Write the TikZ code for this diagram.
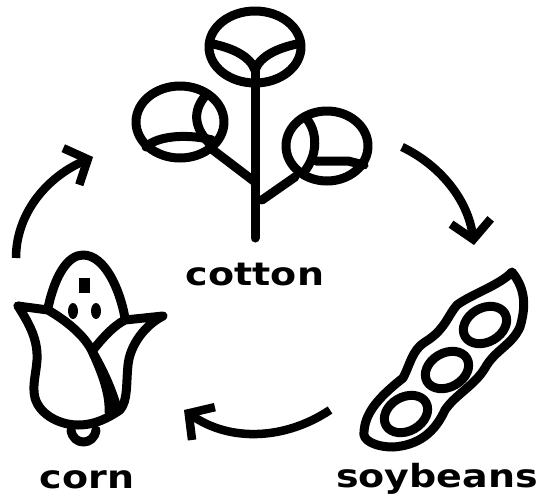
\documentclass[tikz,border=0pt]{standalone}
\usepackage{fontspec}
\setmainfont{DejaVu Sans}
\usetikzlibrary{arrows.meta}
\newcommand{\croplabel}[1]{\scalebox{1}[0.84]{#1}}
\begin{document}
\begin{tikzpicture}[x=1pt,y=-1pt,
      ink/.style={draw=black,line width=9pt,line join=round,line cap=round},
      cycle/.style={draw=black,line width=8.5pt,-{Straight Barb[length=18pt,width=40pt,line width=8.5pt]}},
      lbl/.style={font=\fontsize{38}{38}\selectfont\bfseries,inner sep=0pt,anchor=base}]
    \useasboundingbox (0,0) rectangle (540,496);
    % cotton
    \draw[ink] (255,47) ellipse [x radius=46,y radius=36];
    \draw[ink] (255,70) -- (255,238);
    \draw[ink] (213,44) .. controls (232,48) and (250,56) .. (255,70) .. controls (260,56) and (278,48) .. (297,44);
    \draw[ink] (180,122) ellipse [x radius=44,y radius=36];
    \draw[ink] (207,94) .. controls (192,110) and (193,128) .. (212,146);
    \draw[ink] (146,147) .. controls (158,135) and (190,134) .. (212,140);
    \draw[ink] (213,150) -- (255,182);
    \draw[ink] (327,146) ellipse [x radius=41,y radius=35];
    \draw[ink] (306,118) .. controls (318,132) and (318,155) .. (304,172);
    \draw[ink] (316,161) -- (348,161) -- (364,165);
    \draw[ink] (295,177) -- (262,200);
    \node[lbl] (cotton) at (255,285) {\croplabel{cotton}};
    % corn
    \draw[ink] (48,308) .. controls (55,275) and (68,255) .. (83,255) .. controls (105,255) and (120,290) .. (125,318);
    \fill (79,278) rectangle (90,293);
    \fill (73,311) ellipse [x radius=5,y radius=8];
    \fill (96,311) ellipse [x radius=5,y radius=8];
    \draw[ink] (18,306) -- (48,310) .. controls (65,320) and (85,335) .. (93,353) .. controls (103,375) and (110,395) .. (109,412);
    \draw[ink] (18,306) .. controls (30,325) and (38,340) .. (37,360) .. controls (36,375) and (32,385) .. (35,398) .. controls (40,415) and (60,425) .. (78,425) .. controls (95,425) and (108,418) .. (120,410) .. controls (128,400) and (126,385) .. (128,365) .. controls (130,345) and (145,325) .. (163,316) -- (125,320) .. controls (115,325) and (105,335) .. (93,350);
    \draw[ink] (93,353) .. controls (103,370) and (112,390) .. (117,408);
    \draw[ink] (71,430) .. controls (73,446) and (94,446) .. (96,430);
    \node[lbl] (corn) at (87,488) {\croplabel{corn}};
    % soybeans
    \draw[ink] (512,272) .. controls (522,285) and (528,300) .. (520,327) .. controls (512,345) and (495,350) .. (485,368) .. controls (475,385) and (455,395) .. (445,410) .. controls (438,425) and (425,445) .. (393,447) .. controls (375,447) and (362,440) .. (364,432) .. controls (365,415) and (375,400) .. (403,378) .. controls (410,365) and (412,350) .. (425,342) .. controls (445,330) and (448,315) .. (457,305) .. controls (470,295) and (500,285) .. (512,272) -- cycle;
    \draw[ink,rotate around={30:(485,325)}] (485,325) ellipse [x radius=23,y radius=17];
    \draw[ink,rotate around={30:(447,370)}] (447,370) ellipse [x radius=23,y radius=17];
    \draw[ink,rotate around={30:(406,414)}] (406,414) ellipse [x radius=23,y radius=17];
    \node[lbl] (soybeans) at (437,487) {\croplabel{soybeans}};
    % arrows
    \coordinate (a1) at (402,147);
    \coordinate (a2) at (474,245);
    \coordinate (b1) at (330,410);
    \coordinate (b2) at (184,410);
    \coordinate (c1) at (16,258);
    \coordinate (c2) at (93,157);
    \draw[cycle] (a1) .. controls (440,165) and (468,200) .. (a2);
    \draw[cycle] (b1) .. controls (285,440) and (230,442) .. (b2);
    \draw[cycle] (c1) .. controls (16,215) and (45,178) .. (c2);
  \end{tikzpicture}
\end{document}
